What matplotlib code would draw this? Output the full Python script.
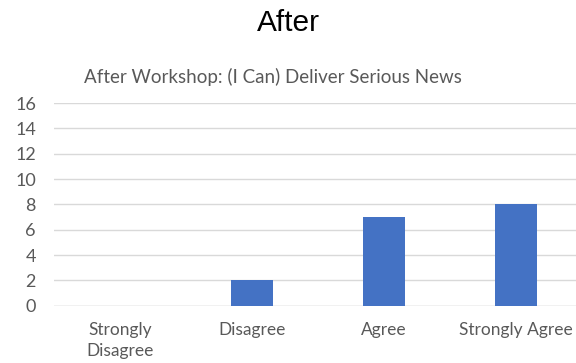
import matplotlib.pyplot as plt

categories = ["Strongly\nDisagree", "Disagree", "Agree", "Strongly Agree"]
counts = [0, 2, 7, 8]
yticks = [0, 2, 4, 6, 8, 10, 12, 14, 16]

plt.rcParams['font.family'] = ['Lato', 'DejaVu Sans']

fig = plt.figure(figsize=(5.76, 3.63), dpi=100)
ax = fig.add_axes([0.09375, 0.158, 0.9167, 0.558])

x = range(len(categories))
ax.bar(x, counts, width=0.32, color='#4472C4', zorder=3)

ax.set_xlim(-0.5, 3.5)
ax.set_ylim(0, 16)
ax.set_yticks(yticks)
ax.set_xticks(list(x))
ax.set_xticklabels(categories, fontsize=12.5, color='#595959', linespacing=1.35)
ax.tick_params(axis='y', labelsize=13, labelcolor='#595959', length=0, pad=13)
ax.tick_params(axis='x', length=0, pad=12)
ax.grid(axis='y', color='#D9D9D9', linewidth=1, zorder=0)
for s in ax.spines.values():
    s.set_visible(False)
ax.axhline(0, color='#D9D9D9', linewidth=1, zorder=1)

fig.text(0.5, 0.937, "After", ha='center', va='center', fontsize=21.5,
         family=['Liberation Sans', 'DejaVu Sans'])
fig.text(0.473, 0.788, "After Workshop: (I Can) Deliver Serious News",
         ha='center', va='center', fontsize=13.5, color='#595959')

fig.savefig('out.png', dpi=100)
